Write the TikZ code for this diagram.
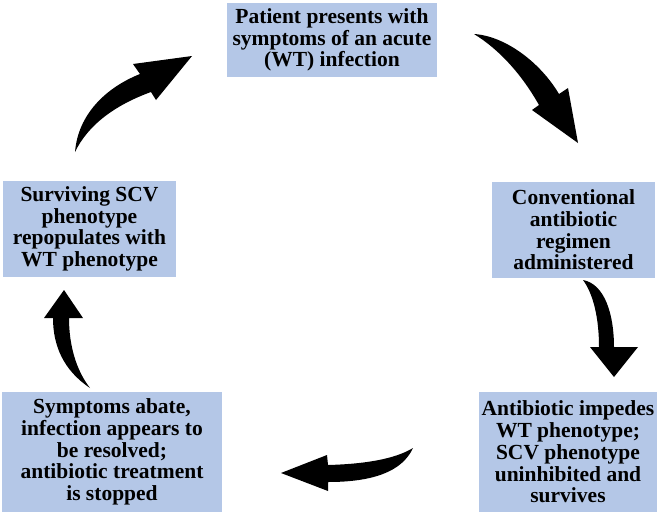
\documentclass[tikz,border=0pt]{standalone}
\usepackage{fontspec}
\setmainfont{Liberation Serif}
\definecolor{boxblue}{RGB}{180,199,231}
\tikzset{
  stagebox/.style={fill=boxblue, draw=none, inner sep=0pt, align=center,
    font=\fontsize{21.5}{21.7}\selectfont\bfseries},
  blockarrow/.style={fill=black, draw=none}
}
\begin{document}
\begin{tikzpicture}[x=1pt,y=-1pt]
\useasboundingbox (0,0) rectangle (662,515);
\node[stagebox, minimum width=210, minimum height=74] (top) at (332,40)
  {Patient presents with\\symptoms of an acute\\(WT) infection};
\node[stagebox, minimum width=163, minimum height=96] (right) at (573.5,230)
  {Conventional\\antibiotic\\regimen\\administered};
\node[stagebox, minimum width=173, minimum height=96] (left) at (89.5,229)
  {Surviving SCV\\phenotype\\repopulates with\\WT phenotype};
\node[stagebox, minimum width=220, minimum height=120] (bl) at (112,452)
  {Symptoms abate,\\infection appears to\\be resolved;\\antibiotic treatment\\is stopped};
\node[stagebox, minimum width=178, minimum height=120] (br) at (568,452)
  {Antibiotic impedes\\WT phenotype;\\SCV phenotype\\uninhibited and\\survives};
% top -> right
\fill[blockarrow] (474,34) .. controls (505,36) and (540,62) .. (559,94)
  -- (568,88) -- (578,143) -- (532,110) -- (539,105)
  .. controls (522,75) and (500,50) .. (474,34) -- cycle;
% right -> br
\fill[blockarrow] (583,280) .. controls (605,284) and (614,315) .. (614,347)
  -- (638,347) -- (614,377) -- (590,347) -- (599,347)
  .. controls (599,320) and (594,295) .. (583,280) -- cycle;
% br -> bl
\fill[blockarrow] (413,448) .. controls (395,459) and (365,464) .. (328,465)
  -- (327,455) -- (281,473) -- (328,491) -- (328,482)
  .. controls (372,482) and (402,472) .. (413,448) -- cycle;
% bl -> left
\fill[blockarrow] (90,388) .. controls (63,370) and (53,345) .. (53,318)
  -- (44,318) -- (64,290) -- (83,318) -- (69,318)
  .. controls (69,345) and (76,370) .. (90,388) -- cycle;
% left -> top
\fill[blockarrow] (75,152) .. controls (78,115) and (105,88) .. (140,74)
  -- (133,64) -- (192,56) -- (156,100) -- (151,92)
  .. controls (115,105) and (88,125) .. (75,152) -- cycle;
\end{tikzpicture}
\end{document}
